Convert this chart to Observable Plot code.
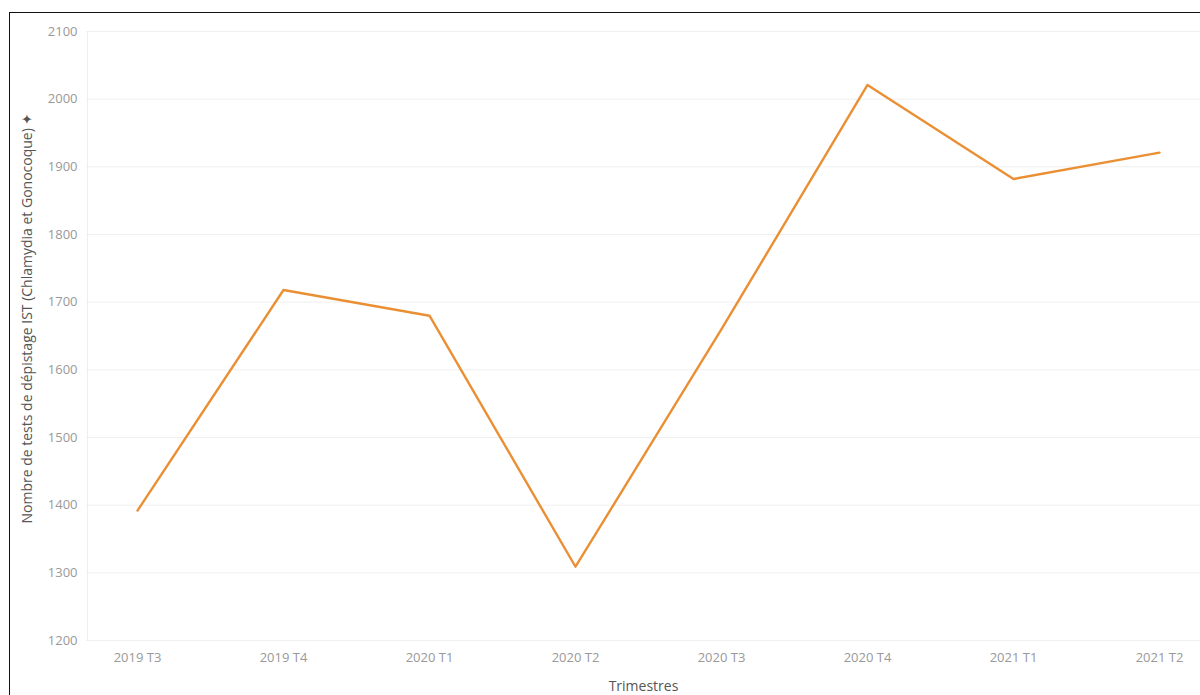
<!DOCTYPE html>
<html>
<head>
<meta charset="utf-8">
<script src="https://cdn.jsdelivr.net/npm/d3@7"></script>
<script src="https://cdn.jsdelivr.net/npm/@observablehq/plot@0.6"></script>
<style>
  html, body { margin: 0; padding: 0; background: #fff; overflow: hidden; }
  #wrap { position: relative; width: 1200px; height: 695px; }
  #border { position: absolute; left: 9px; top: 12px; width: 1300px; height: 800px;
            border-left: 1px solid #111; border-top: 1px solid #111; pointer-events: none; }
  #chart { position: absolute; left: 0; top: 0; }
</style>
</head>
<body>
<div id="wrap"><div id="chart"></div><div id="border"></div></div>
<script>
const quarters = ["2019 T3", "2019 T4", "2020 T1", "2020 T2", "2020 T3", "2020 T4", "2021 T1", "2021 T2"];
const tests = [1392, 1718, 1680, 1309, 1660, 2021, 1882, 1921];
const yTicks = [1200, 1300, 1400, 1500, 1600, 1700, 1800, 1900, 2000, 2100];

const data = quarters.map((q, i) => ({quarter: q, value: tests[i]}));

const chart = Plot.plot({
  width: 1200,
  height: 695,
  marginLeft: 86,
  marginRight: 0,
  marginTop: 31,
  marginBottom: 55,
  style: {fontFamily: "'Open Sans', Lato, sans-serif", fontSize: "13px", background: "transparent"},
  x: {type: "point", domain: quarters, range: [136, 1160], padding: 0, label: null},
  y: {domain: [1200, 2100], label: null},
  marks: [
    Plot.ruleY(yTicks, {stroke: "#efefef", strokeWidth: 1}),
    Plot.ruleX([0], {x: () => quarters[0], dx: -50, stroke: "#efefef"}),
    Plot.axisY({ticks: yTicks, tickFormat: d => String(d), tickSize: 0, tickPadding: 9, color: "#999", fontSize: 13,
      label: "Nombre de tests de dépistage IST (Chlamydia et Gonocoque) ✦", labelAnchor: "center",
      labelArrow: "none", labelOffset: 64}),
    Plot.axisX({tickSize: 0, tickPadding: 12, color: "#999", fontSize: 13,
      label: "Trimestres", labelAnchor: "center", labelArrow: "none", labelOffset: 50}),
    Plot.lineY(data, {x: "quarter", y: "value", stroke: "#ea8f34", strokeWidth: 2.4})
  ]
});
document.getElementById("chart").appendChild(chart);
// axis titles: darker grey, slightly larger
chart.querySelectorAll("g[aria-label='y-axis label'] text, g[aria-label='x-axis label'] text").forEach(t => {
  t.setAttribute("fill", "#555");
  t.setAttribute("font-size", "14");
});
const yl = chart.querySelector("g[aria-label='y-axis label']");
if (yl) yl.setAttribute("transform", (yl.getAttribute("transform") || "") + " translate(0,-18)");
</script>
</body>
</html>
